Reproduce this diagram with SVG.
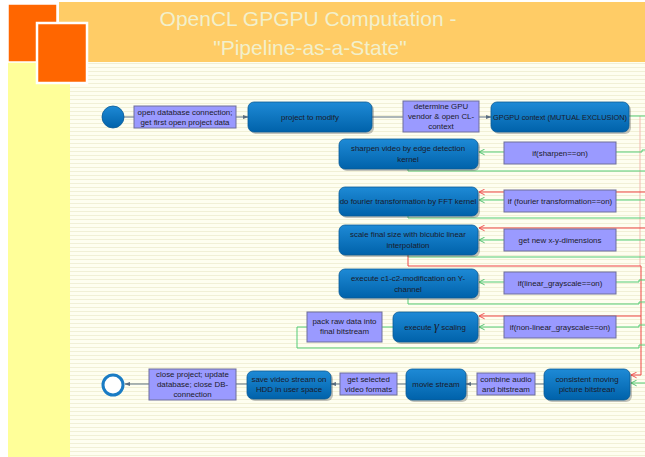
<svg xmlns="http://www.w3.org/2000/svg" width="645" height="457" viewBox="0 0 645 457">
<defs>
<pattern id="lines" x="0" y="0" width="8" height="4" patternUnits="userSpaceOnUse">
<rect width="8" height="4" fill="#FEFEF0"/>
<rect y="3" width="8" height="1" fill="#F1F0D6"/>
</pattern>
<linearGradient id="blue" x1="0" y1="0" x2="0" y2="1">
<stop offset="0" stop-color="#1E8AD6"/>
<stop offset="1" stop-color="#0062AA"/>
</linearGradient>
<marker id="ag" viewBox="0 0 10 10" refX="9" refY="5" markerWidth="6" markerHeight="6" orient="auto">
<path d="M0,1.5 L10,5 L0,8.5 z" fill="#5A6E80"/>
</marker>
<marker id="agr" viewBox="0 0 10 10" refX="9" refY="5" markerWidth="7" markerHeight="7" orient="auto">
<path d="M1,1 L9,5 L1,9" fill="none" stroke="#44BB66" stroke-width="1.3"/>
</marker>
<marker id="ard" viewBox="0 0 10 10" refX="9" refY="5" markerWidth="7" markerHeight="7" orient="auto">
<path d="M1,1 L9,5 L1,9" fill="none" stroke="#EE4444" stroke-width="1.3"/>
</marker>
</defs>
<style>
.t{font-family:"Liberation Sans",Arial,sans-serif;font-size:7.9px;fill:#1A1A2A;text-anchor:middle}
.title{font-family:"Liberation Sans",Arial,sans-serif;font-size:21px;fill:#F2F0CC;text-anchor:middle}
.rb{fill:url(#blue);stroke:#0A5A96;stroke-width:0.8}
.sh{fill:#555;opacity:0.35}
.pb{fill:#9A9AFF;stroke:#6E6E9A;stroke-width:1}
.fl{stroke:#5A6E80;stroke-width:1;fill:none}
.g{stroke:#55CC77;stroke-width:1;fill:none}
.r{stroke:#EE4444;stroke-width:1;fill:none}
</style>
<rect width="645" height="457" fill="#FFFFFF"/>
<rect x="58" y="62" width="587" height="395" fill="url(#lines)"/>
<rect x="8" y="62" width="62" height="395" fill="#FFFF99"/>
<rect x="59" y="2" width="586" height="60" fill="#FFCC66"/>
<rect x="8" y="4" width="49" height="58" fill="#FF6600" stroke="#FFFFFF" stroke-width="1.5"/>
<rect x="37" y="23" width="50" height="60" fill="#FF6600" stroke="#FFFFFF" stroke-width="2.5"/>
<text class="title" x="308" y="26">OpenCL GPGPU Computation -</text>
<text class="title" x="310" y="55">"Pipeline-as-a-State"</text>

<g id="connectors">
<line class="fl" x1="124" y1="117" x2="134" y2="117"/>
<line class="fl" x1="236" y1="117" x2="248" y2="117" marker-end="url(#ag)"/>
<line class="fl" x1="372" y1="117" x2="403" y2="117"/>
<line class="fl" x1="479" y1="117" x2="491" y2="117" marker-end="url(#ag)"/>
<line class="fl" x1="544" y1="384" x2="535" y2="384"/>
<line class="fl" x1="477" y1="384" x2="466" y2="384" marker-end="url(#ag)"/>
<line class="fl" x1="406" y1="384" x2="397" y2="384"/>
<line class="fl" x1="340" y1="384" x2="331" y2="384" marker-end="url(#ag)"/>
<line class="fl" x1="247" y1="384" x2="236" y2="384"/>
<line class="fl" x1="149" y1="384" x2="125" y2="384" marker-end="url(#ag)"/>

<path d="M640,116 V266" stroke="#F2B8B0" stroke-width="1" fill="none"/>
<path class="g" d="M629,116 H645"/>
<path class="g" d="M616,152 H642 V150 H645"/>
<line class="g" x1="504" y1="152" x2="479" y2="152" marker-end="url(#agr)"/>
<path class="g" d="M408,169 V171 H645"/>
<path class="r" d="M645,192 H479" marker-end="url(#ard)"/>
<line class="g" x1="504" y1="200" x2="479" y2="200" marker-end="url(#agr)"/>
<path class="g" d="M616,200 H645"/>
<path class="g" d="M408,216 V218 H645"/>
<path class="r" d="M645,228 H479" marker-end="url(#ard)"/>
<line class="g" x1="504" y1="240" x2="479" y2="240" marker-end="url(#agr)"/>
<path class="g" d="M616,240 H645"/>
<path class="g" d="M408,255 V257 H645" stroke="#99DDAA"/>
<path class="r" d="M408,255 V266 H641 V375 H631" marker-end="url(#ard)"/>
<line class="g" x1="504" y1="282" x2="479" y2="282" marker-end="url(#agr)"/>
<path class="g" d="M616,282 H639 V280 H645"/>
<path class="g" d="M408,298 V304 H639 V302 H645"/>
<path class="r" d="M641,316 H479" marker-end="url(#ard)"/>
<line class="g" x1="504" y1="327" x2="479" y2="327" marker-end="url(#agr)"/>
<path class="g" d="M616,327 H639 V325 H645"/>
<line class="g" x1="393" y1="327" x2="382" y2="327"/>
<path class="g" d="M307,327 H297 V348 H639 V345 H645"/>
<line class="g" x1="645" y1="383" x2="631" y2="383" marker-end="url(#agr)"/>
</g>

<g id="start"><circle cx="113" cy="117" r="11" fill="url(#blue)" stroke="#0A5A96" stroke-width="0.8"/></g>
<g id="n-open"><rect class="pb" x="134" y="106" width="102" height="22"/>
<text class="t" x="185" y="114.5">open database connection;</text><text class="t" x="185" y="125">get first open project data</text></g>
<g id="n-project"><rect class="sh" x="250" y="104" width="124" height="30" rx="6"/><rect class="rb" x="248" y="102" width="124" height="30" rx="6"/>
<text class="t" x="310" y="120">project to modify</text></g>
<g id="n-determine"><rect class="pb" x="403" y="101" width="76" height="31"/>
<text class="t" x="441" y="108.5">determine GPU</text><text class="t" x="441" y="118.5">vendor &amp; open CL-</text><text class="t" x="441" y="128.5">context</text></g>
<g id="n-gpgpu"><rect class="sh" x="493" y="104" width="138" height="30" rx="6"/><rect class="rb" x="491" y="102" width="138" height="30" rx="6"/>
<text class="t" x="560" y="120" textLength="134" lengthAdjust="spacingAndGlyphs">GPGPU context (MUTUAL EXCLUSION)</text></g>

<g id="n-sharpen"><rect class="sh" x="341" y="141" width="139" height="30" rx="6"/><rect class="rb" x="339" y="139" width="139" height="30" rx="6"/>
<text class="t" x="408" y="151">sharpen video by edge detection</text><text class="t" x="408" y="162">kernel</text></g>
<g id="n-ifsharpen"><rect class="pb" x="504" y="142" width="112" height="22"/><text class="t" x="560" y="156">if(sharpen==on)</text></g>

<g id="n-fourier"><rect class="sh" x="341" y="189" width="139" height="29" rx="6"/><rect class="rb" x="339" y="187" width="139" height="29" rx="6"/>
<text class="t" x="408" y="204">do fourier transformation by FFT kernel</text></g>
<g id="n-iffourier"><rect class="pb" x="504" y="190" width="112" height="22"/><text class="t" x="560" y="204">if (fourier transformation==on)</text></g>

<g id="n-scale"><rect class="sh" x="341" y="227" width="139" height="30" rx="6"/><rect class="rb" x="339" y="225" width="139" height="30" rx="6"/>
<text class="t" x="408" y="237">scale final size with bicubic linear</text><text class="t" x="408" y="248">interpolation</text></g>
<g id="n-getnew"><rect class="pb" x="504" y="229" width="112" height="22"/><text class="t" x="560" y="243">get new  x-y-dimensions</text></g>

<g id="n-c1c2"><rect class="sh" x="341" y="271" width="139" height="29" rx="6"/><rect class="rb" x="339" y="269" width="139" height="29" rx="6"/>
<text class="t" x="408" y="281">execute c1-c2-modification on Y-</text><text class="t" x="408" y="292">channel</text></g>
<g id="n-iflinear"><rect class="pb" x="504" y="272" width="112" height="22"/><text class="t" x="560" y="286">if(linear_grayscale==on)</text></g>

<g id="n-gamma"><rect class="sh" x="395" y="314" width="85" height="30" rx="6"/><rect class="rb" x="393" y="312" width="85" height="30" rx="6"/>
<text class="t" x="435" y="330">execute <tspan font-family="'Liberation Serif',serif" font-style="italic" font-size="13px">γ</tspan>  scaling</text></g>
<g id="n-ifnonlinear"><rect class="pb" x="504" y="316" width="112" height="22"/><text class="t" x="560" y="330">if(non-linear_grayscale==on)</text></g>
<g id="n-pack"><rect class="pb" x="307" y="312" width="75" height="30"/>
<text class="t" x="344.5" y="324">pack raw  data into</text><text class="t" x="344.5" y="334">final bitstream</text></g>

<g id="end"><circle cx="113" cy="385" r="10" fill="#FFFFFF" stroke="#1A7CC4" stroke-width="3"/></g>
<g id="n-close"><rect class="pb" x="149" y="369" width="87" height="31"/>
<text class="t" x="192.5" y="376.5">close project; update</text><text class="t" x="192.5" y="386.5">database; close DB-</text><text class="t" x="192.5" y="396.5">connection</text></g>
<g id="n-save"><rect class="sh" x="249" y="373" width="84" height="28" rx="6"/><rect class="rb" x="247" y="371" width="84" height="28" rx="6"/>
<text class="t" x="289" y="382">save video stream on</text><text class="t" x="289" y="392">HDD in user space</text></g>
<g id="n-getsel"><rect class="pb" x="340" y="373" width="57" height="22"/>
<text class="t" x="368.5" y="382">get selected</text><text class="t" x="368.5" y="392">video formats</text></g>
<g id="n-movie"><rect class="sh" x="408" y="371" width="60" height="31" rx="6"/><rect class="rb" x="406" y="369" width="60" height="31" rx="6"/>
<text class="t" x="436" y="387">movie stream</text></g>
<g id="n-combine"><rect class="pb" x="477" y="373" width="58" height="22"/>
<text class="t" x="506" y="382">combine audio</text><text class="t" x="506" y="392">and bitstream</text></g>
<g id="n-consistent"><rect class="sh" x="546" y="371" width="86" height="31" rx="6"/><rect class="rb" x="544" y="369" width="86" height="31" rx="6"/>
<text class="t" x="587" y="382">consistent moving</text><text class="t" x="587" y="392">picture bitstrean</text></g>
</svg>
